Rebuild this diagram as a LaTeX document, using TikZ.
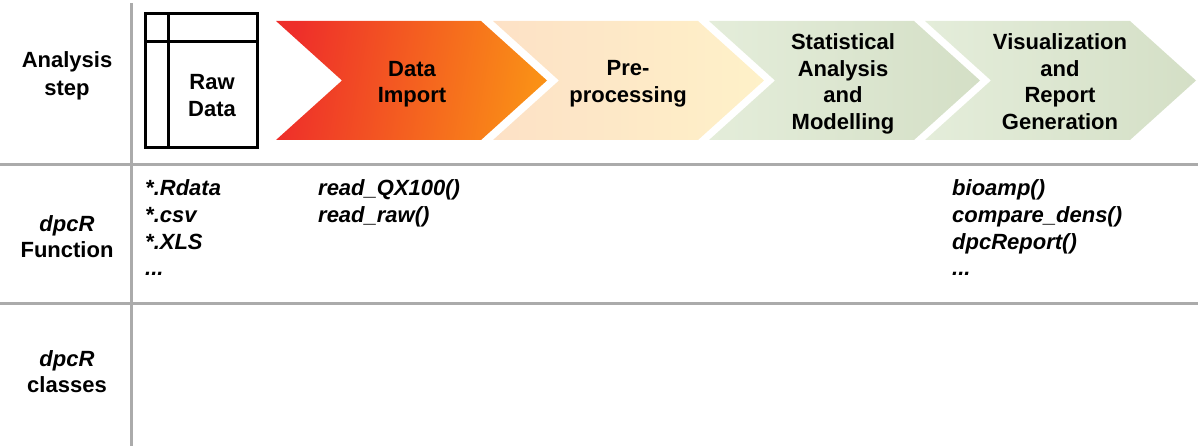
\documentclass[tikz,border=0pt]{standalone}
\usepackage{fontspec}
\setmainfont{Liberation Sans}
\begin{document}
\begin{tikzpicture}[x=1pt,y=-1pt,
  lbl/.style={font=\bfseries\fontsize{22}{26.5}\selectfont, align=center, inner sep=0pt, text=black},
  fn/.style={font=\bfseries\itshape\fontsize{22}{26.5}\selectfont, anchor=base west, inner sep=0pt, text=black},
  grid/.style={draw=gridgray, line width=3pt},
  box/.style={draw=black, line width=3pt}]
\definecolor{gridgray}{HTML}{ABABAB}
\definecolor{redA}{HTML}{EE2E2A}
\definecolor{orangeA}{HTML}{FA9016}
\definecolor{peachA}{HTML}{FDE1C6}
\definecolor{yellowA}{HTML}{FEF1C8}
\definecolor{greenA}{HTML}{E4EDDA}
\definecolor{greenB}{HTML}{D4DFC6}
\useasboundingbox (0,0) rectangle (1198,446);
% grid
\coordinate (vt) at (131,3);
\coordinate (vb) at (131,446);
\coordinate (h1l) at (0,165);
\coordinate (h1r) at (1198,165);
\coordinate (h2l) at (0,303);
\coordinate (h2r) at (1198,303);
\draw[grid] (vt) -- (vb);
\draw[grid] (h1l) -- (h1r);
\draw[grid] (h2l) -- (h2r);
% raw data box
\draw[box] (145,14) rectangle (257,148);
\draw[box] (168,14) -- (168,148);
\draw[box] (145,42) -- (257,42);
\node[lbl] (raw) at (212,95.5) {Raw\\Data};
% chevrons
\newcommand{\chev}[1]{(#1,21) -- (#1+205,21) -- (#1+271,80.5) -- (#1+205,140) -- (#1,140) -- (#1+66,80.5) -- cycle}
\shade[left color=redA, right color=orangeA, shading angle=80] \chev{276};
\shade[left color=peachA, right color=yellowA] \chev{493};
\shade[left color=greenA, right color=greenB] \chev{709};
\shade[left color=greenA, right color=greenB] \chev{925};
\node[lbl] (c1) at (412,84) {Data\\Import};
\node[lbl] (c2) at (628,84) {Pre-\\processing};
\node[lbl] (c3) at (843,84) {Statistical\\Analysis\\and\\Modelling};
\node[lbl] (c4) at (1060,81.5) {Visualization\\and\\Report\\Generation};
% row labels
\node[lbl, font=\bfseries\fontsize{22}{28}\selectfont] (r1) at (67,76) {Analysis\\step};
\node[lbl] (r2) at (67,236.5) {\itshape dpcR\\Function};
\node[lbl] (r3) at (67,371.5) {\itshape dpcR\\classes};
% functions
\node[fn] (f1) at (145,196) {*.Rdata};
\node[fn] (f2) at (145,222.5) {*.csv};
\node[fn] (f3) at (145,249) {*.XLS};
\node[fn] (f4) at (145,275) {...};
\node[fn] (g1) at (318,196) {read\_QX100()};
\node[fn] (g2) at (318,222.5) {read\_raw()};
\node[fn] (h1) at (952,196) {bioamp()};
\node[fn] (h2) at (952,222.5) {compare\_dens()};
\node[fn] (h3) at (952,249) {dpcReport()};
\node[fn] (h4) at (952,275) {...};
\end{tikzpicture}
\end{document}
